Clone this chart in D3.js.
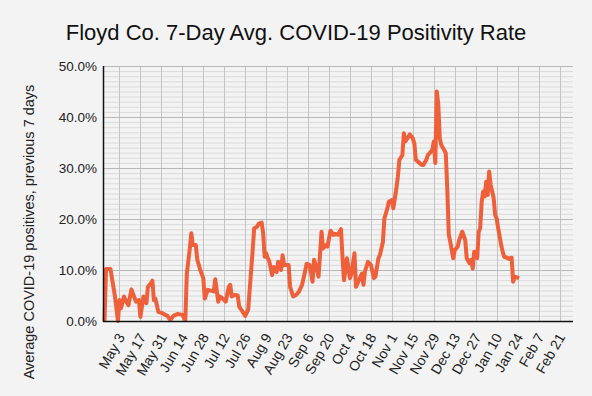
<!DOCTYPE html>
<html>
<head>
<meta charset="utf-8">
<script src="https://cdn.jsdelivr.net/npm/d3@7"></script>
<style>
  html, body { margin: 0; padding: 0; background: #f3f3f3; }
  svg { display: block; font-family: "Liberation Sans", Arial, sans-serif; }
</style>
</head>
<body>
<svg id="chart" width="592" height="396"></svg>
<script>
// ---- data ----
const titleText = "Floyd Co. 7-Day Avg. COVID-19 Positivity Rate";
const yAxisTitle = "Average COVID-19 positives, previous 7 days";
// days relative to May 3, 2020
const daysFromMay3 = [-10,-9,-6,-3,-1,0,1,3,4,6,8,9,11,13,14,16,18,19,21,22,23,24,26,28,32,34,36,39,42,44,
  45,47,48,49,51,52,54,56,57,59,63,64,66,67,69,71,73,74,75,77,79,80,83,84,86,87,89,90,92,93,95,96,97,98,99,100,
  102,103,105,106,108,109,110,113,114,116,118,120,122,124,125,127,129,130,132,133,135,136,138,139,141,143,144,146,
  148,149,150,151,152,154,155,157,158,160,162,163,164,166,168,170,171,173,174,176,177,179,180,182,183,185,186,187,
  189,190,191,193,194,196,197,198,200,202,203,205,206,208,209,210,211,212,213,214,215,217,218,219,220,221,223,224,
  226,227,229,231,232,234,235,236,237,239,240,241,242,243,244,245,246,247,248,249,250,251,252,253,255,256,257,259,
  260,262,263,264,266,267];
const positivity = [0,10.2,10.2,4.8,0,4.1,2.5,4.8,4.1,3.1,6.2,5.4,3.8,4.1,0.8,4.8,3.5,6.7,7.4,7.9,4.1,4.4,1.8,1.6,1.0,0.2,1.0,1.4,1.2,0.2,
  9.3,14.2,17.2,14.9,14.9,12.0,10.0,8.4,4.4,6.1,5.8,8.2,3.8,4.8,4.4,3.8,6.7,7.1,4.8,5.1,5.0,2.8,1.5,1.0,2.2,6.1,13.9,18.2,18.5,19.1,19.3,17.2,12.6,13.3,12.4,11.8,
  9.0,10.6,9.6,11.6,10.0,12.9,11.0,11.0,6.7,4.8,5.1,5.8,7.1,9.7,11.2,11.0,7.7,12.0,10.0,8.7,17.5,14.2,14.9,14.6,17.7,16.9,17.1,16.9,
  18.0,12.6,8.0,10.0,12.3,8.4,9.3,13.3,6.7,8.0,9.3,7.1,9.7,11.6,11.0,8.4,8.7,12.3,12.9,15.5,20.1,22.1,23.4,23.7,22.1,26.0,28.3,31.6,
  32.5,36.8,35.2,36.1,36.6,35.8,34.8,31.6,31.1,30.6,30.6,31.6,32.5,33.2,33.5,35.2,31.0,45.0,42.5,35.8,34.5,33.5,32.9,26.0,17.0,15.5,12.3,13.9,
  14.6,15.9,17.5,15.9,12.3,11.3,12.0,10.3,13.6,12.3,17.5,18.2,23.4,25.4,24.4,27.3,24.7,29.3,26.7,25.4,24.1,20.8,20.1,18.2,14.9,13.6,12.6,12.4,
  12.2,12.4,7.7,8.7,8.5,8.4];
const tickLabels = ["May 3","May 17","May 31","Jun 14","Jun 28","Jul 12","Jul 26","Aug 9","Aug 23","Sep 6","Sep 20",
  "Oct 4","Oct 18","Nov 1","Nov 15","Nov 29","Dec 13","Dec 27","Jan 10","Jan 24","Feb 7","Feb 21"];
const yMajorTicks = [0,10,20,30,40,50];

// ---- layout ----
const DAY = 864e5;
const base = Date.UTC(2020, 4, 3);
const toDate = d => new Date(base + d * DAY);

const svg = d3.select("#chart");
svg.append("rect").attr("width", 592).attr("height", 396).attr("fill", "#f3f3f3");

const x = d3.scaleUtc()
  .domain([toDate(-11), toDate(303)])
  .range([103, 573]);
const y = d3.scaleLinear().domain([0, 50]).range([321, 66]);

const tickDates = tickLabels.map((_, i) => toDate(i * 14));

// minor horizontal grid (every 1%)
svg.append("g").selectAll("line")
  .data(d3.range(0, 51, 1).filter(v => v % 10 !== 0))
  .join("line")
  .attr("x1", 103).attr("x2", 573)
  .attr("y1", d => y(d) + 0.5).attr("y2", d => y(d) + 0.5)
  .attr("stroke", "#dadada").attr("stroke-width", 1);

// vertical grid at ticks
svg.append("g").selectAll("line")
  .data(tickDates)
  .join("line")
  .attr("x1", d => Math.round(x(d)) + 0.5).attr("x2", d => Math.round(x(d)) + 0.5)
  .attr("y1", 66).attr("y2", 321)
  .attr("stroke", "#c4c4c4").attr("stroke-width", 1);

// major horizontal grid
svg.append("g").selectAll("line")
  .data(yMajorTicks.filter(v => v > 0))
  .join("line")
  .attr("x1", 103).attr("x2", 573)
  .attr("y1", d => Math.round(y(d)) + 0.5).attr("y2", d => Math.round(y(d)) + 0.5)
  .attr("stroke", "#b8b8b8").attr("stroke-width", 1);

// y tick labels
svg.append("g").selectAll("text")
  .data(yMajorTicks)
  .join("text")
  .attr("x", 97).attr("y", d => y(d))
  .attr("dy", "0.35em")
  .attr("text-anchor", "end")
  .attr("font-size", 13.5)
  .attr("fill", "#222")
  .text(d => d3.format(".1f")(d) + "%");

// x tick labels
svg.append("g").selectAll("text")
  .data(tickDates)
  .join("text")
  .attr("transform", (d) => `translate(${x(d) + 6},${337}) rotate(-60)`)
  .attr("text-anchor", "end")
  .attr("font-size", 14)
  .attr("fill", "#222")
  .text((d, i) => tickLabels[i]);

// data line
const line = d3.line()
  .x((d, i) => x(toDate(daysFromMay3[i])))
  .y((d) => y(d));
svg.append("path")
  .datum(positivity)
  .attr("d", line)
  .attr("fill", "none")
  .attr("stroke", "#ef5f39")
  .attr("stroke-width", 4)
  .attr("stroke-linejoin", "round");

// axes lines
svg.append("line").attr("x1", 103.5).attr("x2", 103.5).attr("y1", 66).attr("y2", 322)
  .attr("stroke", "#111").attr("stroke-width", 1.5);
svg.append("line").attr("x1", 103).attr("x2", 573).attr("y1", 321.5).attr("y2", 321.5)
  .attr("stroke", "#111").attr("stroke-width", 1.5);

// title
svg.append("text")
  .attr("x", 296).attr("y", 40)
  .attr("text-anchor", "middle")
  .attr("font-size", 22)
  .attr("fill", "#111")
  .text(titleText);

// y axis title
svg.append("text")
  .attr("transform", "translate(34,232) rotate(-90)")
  .attr("text-anchor", "middle")
  .attr("font-size", 14.5)
  .attr("fill", "#222")
  .text(yAxisTitle);
</script>
</body>
</html>
